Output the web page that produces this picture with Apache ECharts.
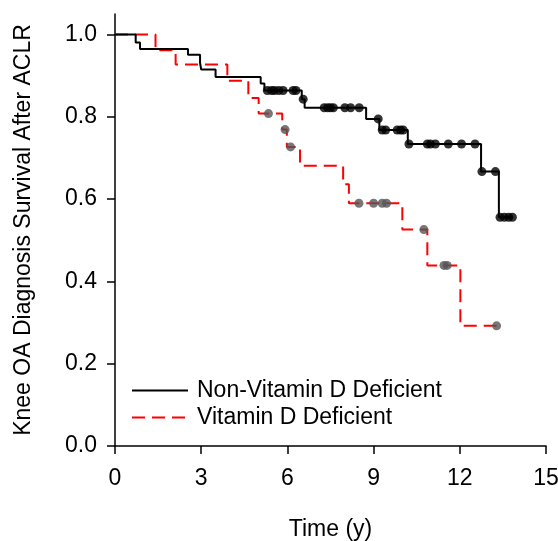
<!DOCTYPE html>
<html>
<head>
<meta charset="utf-8">
<script src="https://cdn.jsdelivr.net/npm/echarts@6/dist/echarts.min.js"></script>
<style>html,body{margin:0;padding:0;background:#fff}#c{width:558px;height:541px}</style>
</head>
<body>
<div id="c"></div>
<script>
const xTicks = [0, 3, 6, 9, 12, 15];
const yTicks = [0, 0.2, 0.4, 0.6, 0.8, 1.0];

// Non-Vitamin D Deficient: [time, survival]
const nonDefSteps = [[0,1],[0.72,0.981],[0.87,0.965],[2.54,0.951],[2.96,0.931],[3.0,0.915],[3.5,0.897],[5.07,0.881],[5.2,0.864],[6.5,0.843],[6.6,0.822],[8.74,0.795],[9.2,0.768],[10.19,0.734],[12.74,0.667],[13.36,0.556],[13.83,0.556]];
const nonDefCensor = [[5.3,0.864],[5.45,0.864],[5.55,0.864],[5.7,0.864],[5.85,0.864],[6.2,0.864],[6.3,0.864],[6.55,0.843],[7.28,0.822],[7.4,0.822],[7.5,0.822],[7.6,0.822],[8.0,0.822],[8.2,0.822],[8.5,0.822],[9.16,0.795],[9.3,0.768],[9.42,0.768],[9.82,0.768],[9.94,0.768],[10.03,0.768],[10.23,0.734],[10.87,0.734],[10.98,0.734],[11.15,0.734],[11.6,0.734],[12.06,0.734],[12.53,0.734],[12.77,0.667],[13.24,0.667],[13.4,0.556],[13.55,0.556],[13.7,0.556],[13.83,0.556]];

// Vitamin D Deficient
const defSteps = [[0,1],[1.41,0.962],[2.11,0.927],[3.91,0.888],[4.64,0.846],[5.0,0.808],[5.82,0.769],[5.98,0.727],[6.44,0.681],[7.94,0.636],[8.14,0.590],[10.0,0.526],[10.87,0.439],[12.02,0.292],[13.28,0.292]];
const defCensor = [[5.34,0.808],[5.92,0.769],[6.11,0.727],[8.49,0.590],[9.0,0.590],[9.3,0.590],[9.45,0.590],[10.75,0.526],[11.45,0.439],[11.56,0.439],[13.28,0.292]];

const seriesNames = ['Non-Vitamin D Deficient', 'Vitamin D Deficient'];

const font = 'Liberation Sans, Arial, sans-serif';
const fs = 23;
const chart = echarts.init(document.getElementById('c'), null, {renderer: 'canvas'});
chart.setOption({
  animation: false,
  backgroundColor: '#fff',
  grid: {left: 115, right: 12, top: 14, bottom: 95, containLabel: false, outerBoundsMode: 'none'},
  legend: {
    data: seriesNames,
    orient: 'vertical',
    left: 126,
    top: 374,
    itemWidth: 56,
    itemHeight: 18,
    itemGap: 4,
    itemStyle: {opacity: 0},
    textStyle: {fontFamily: font, fontSize: fs, color: '#000', padding: [0,0,0,4]}
  },
  xAxis: {
    type: 'value', min: 0, max: 15, interval: 3,
    name: 'Time (y)', nameLocation: 'middle', nameGap: 72,
    nameTextStyle: {fontFamily: font, fontSize: fs, color: '#000'},
    axisLine: {lineStyle: {color: '#000', width: 1.5}},
    axisTick: {length: 8, lineStyle: {color: '#000', width: 1.5}, customValues: xTicks},
    axisLabel: {fontFamily: font, fontSize: fs, color: '#000', margin: 21, customValues: xTicks},
    splitLine: {show: false}
  },
  yAxis: {
    type: 'value', min: 0, max: 1.05, interval: 0.2,
    name: 'Knee OA Diagnosis Survival After ACLR', nameLocation: 'middle', nameGap: 80, nameRotate: 90,
    nameTextStyle: {fontFamily: font, fontSize: fs, color: '#000'},
    axisLine: {show: true, lineStyle: {color: '#000', width: 1.5}},
    axisTick: {show: true, length: 8, lineStyle: {color: '#000', width: 1.5}, customValues: yTicks},
    axisLabel: {fontFamily: font, fontSize: fs, color: '#000', margin: 18, customValues: yTicks,
      formatter: v => v.toFixed(1)},
    splitLine: {show: false}
  },
  series: [
    {name: seriesNames[0], type: 'line', step: 'end', data: nonDefSteps, symbol: 'none',
     color: '#000', lineStyle: {color: '#000', width: 2}, z: 3},
    {name: seriesNames[1], type: 'line', step: 'end', data: defSteps, symbol: 'none',
     color: '#ff0000', lineStyle: {color: '#ff0000', width: 2, type: [13, 7]}, z: 2},
    {name: 'nc', type: 'scatter', data: nonDefCensor, symbolSize: 9, itemStyle: {color: '#000'}, z: 4},
    {name: 'dc', type: 'scatter', data: defCensor, symbolSize: 9, itemStyle: {color: '#555'}, z: 4}
  ]
});
</script>
</body>
</html>
